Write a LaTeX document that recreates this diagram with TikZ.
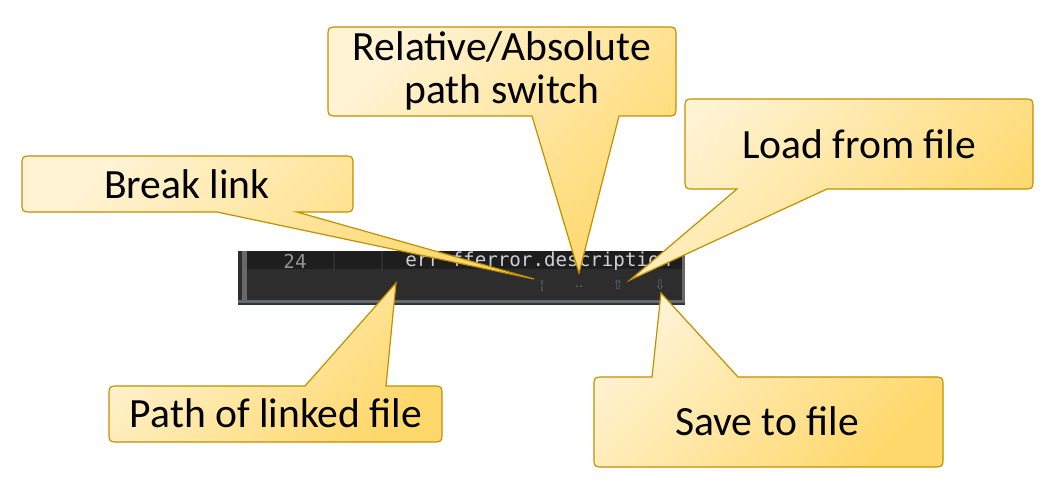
\documentclass[tikz,border=0pt]{standalone}
\usepackage{fontspec}
\setmainfont{Carlito}
\newfontfamily\codefont{DejaVu Sans Mono}
\newfontfamily\iconfont{DejaVu Sans}
\usepackage{tikz}
\usetikzlibrary{positioning}
\definecolor{calloutlight}{RGB}{255,243,212}
\definecolor{calloutdark}{RGB}{255,216,108}
\definecolor{calloutline}{RGB}{191,144,0}
\definecolor{editorbg}{RGB}{45,45,45}
\definecolor{editorrow}{RGB}{30,30,30}
\definecolor{editorgray}{RGB}{104,104,104}
\definecolor{editorteal}{RGB}{34,58,58}
\definecolor{editoricon}{RGB}{92,108,120}

\begin{document}
\begin{tikzpicture}[x=0.5pt, y=-0.5pt,
    callout/.style={draw=calloutline, line width=0.6pt, top color=calloutlight, bottom color=calloutdark, shading angle=45},
    tiptext/.style={font=\fontsize{20.8}{21.6}\selectfont, align=center, inner sep=0pt},
    icon/.style={font=\iconfont\fontsize{6.5}{7}\selectfont, text=editoricon, inner sep=0pt}]
    \useasboundingbox (0,0) rectangle (1055,503);

    % Editor strip
    \fill[editorbg] (238,251) rectangle (685,305);
    \fill[editorrow] (247,251) rectangle (682,269);
    \fill[editorgray] (242,251) rectangle (247,300);
    \fill[editorgray] (682,251) rectangle (685,303);
    \fill[editorgray] (238,300) rectangle (685,303);
    \fill[editorteal] (238,303) rectangle (685,305);
    \draw[editorbg, line width=0.6pt] (334,251) -- (334,269);
    \draw[editorbg, line width=0.6pt] (382,251) -- (382,269);
    \node[font=\codefont\fontsize{9.6}{10}\selectfont, text=gray!85] (lineno) at (295,261) {24};
    \begin{scope}
        \clip (247,251) rectangle (682,269);
        \node[anchor=west, font=\codefont\fontsize{9.6}{10}\selectfont, text=blue!10!gray!35, inner sep=0pt] (code) at (405,261) {err fferror.description};
    \end{scope}

    % Icons in the lower bar
    \node[icon] (brkicon) at (542,286) {¦};
    \node[icon] (relicon) at (579,287) {..};
    \node[icon] (loadicon) at (618,285) {⇧};
    \node[icon] (saveicon) at (660,285) {⇩};

    % Callout tips
    \coordinate (brk) at (534,279);
    \coordinate (rel) at (579,273);
    \coordinate (load) at (630,280);
    \coordinate (save) at (661,293);
    \coordinate (pathfield) at (396,283);

    % Callouts
    \draw[callout] (32,156) -- (343,156) .. controls (353,156) .. (353,166) -- (353,202) .. controls (353,212) .. (343,212) -- (297,212) -- (brk) -- (217,212) -- (32,212) .. controls (22,212) .. (22,202) -- (22,166) .. controls (22,156) .. (32,156) -- cycle;
    \draw[callout] (338,27) -- (666,27) .. controls (676,27) .. (676,37) -- (676,106) .. controls (676,116) .. (666,116) -- (619,116) -- (rel) -- (532,116) -- (338,116) .. controls (328,116) .. (328,106) -- (328,37) .. controls (328,27) .. (338,27) -- cycle;
    \draw[callout] (695,99) -- (1023,99) .. controls (1033,99) .. (1033,109) -- (1033,179) .. controls (1033,189) .. (1023,189) -- (827,189) -- (load) -- (737,189) -- (695,189) .. controls (685,189) .. (685,179) -- (685,109) .. controls (685,99) .. (695,99) -- cycle;
    \draw[callout] (604,377) -- (652,377) -- (save) -- (738,377) -- (933,377) .. controls (943,377) .. (943,387) -- (943,457) .. controls (943,467) .. (933,467) -- (604,467) .. controls (594,467) .. (594,457) -- (594,387) .. controls (594,377) .. (604,377) -- cycle;
    \draw[callout] (119,386) -- (305,386) -- (pathfield) -- (386,386) -- (432,386) .. controls (442,386) .. (442,396) -- (442,432) .. controls (442,442) .. (432,442) -- (119,442) .. controls (109,442) .. (109,432) -- (109,396) .. controls (109,386) .. (119,386) -- cycle;

    % Texts
    \node[tiptext, anchor=base] (breaktext) at (187,198) {Break link};
    \node[tiptext] (reltext) at (502,71) {Relative/Absolute\\path switch};
    \node[tiptext, anchor=base] (loadtext) at (859,158) {Load from file};
    \node[tiptext, anchor=base] (savetext) at (767,435) {Save to file};
    \node[tiptext, anchor=base] (pathtext) at (276,427) {Path of linked file};
\end{tikzpicture}
\end{document}
